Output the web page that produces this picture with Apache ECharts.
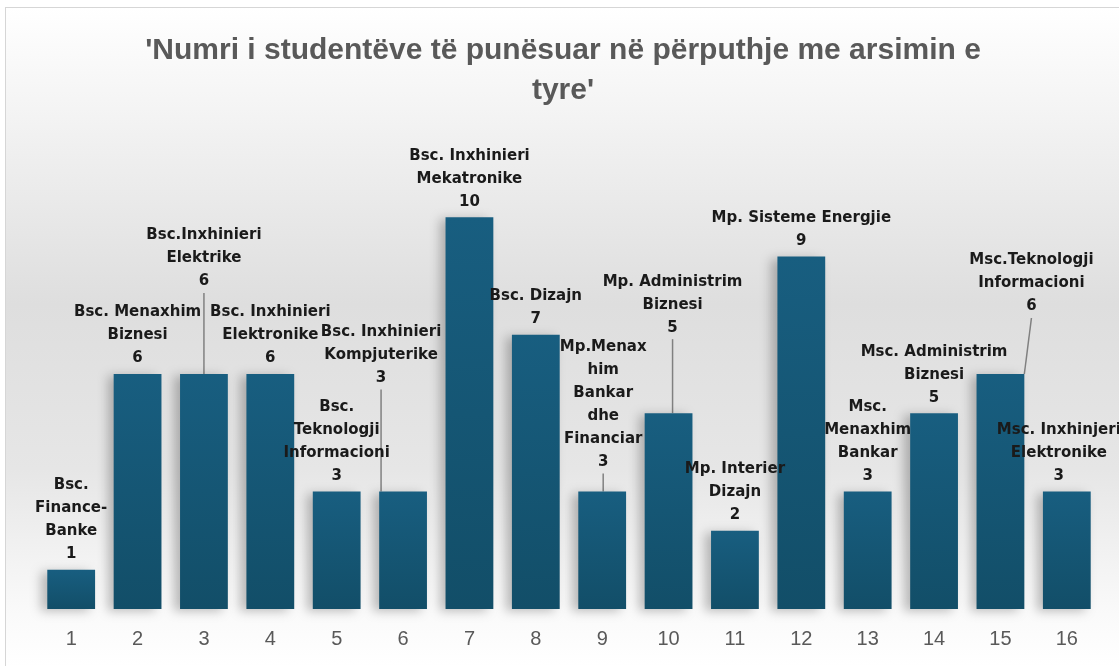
<!DOCTYPE html>
<html>
<head>
<meta charset="utf-8">
<script src="https://cdn.jsdelivr.net/npm/echarts@6/dist/echarts.min.js"></script>
<style>
  html, body { margin: 0; padding: 0; background: #fff; }
  #wrap {
    position: absolute; left: 5px; top: 7px; width: 1114px; height: 659px;
    border-left: 1px solid #d6d6d6; border-top: 1px solid #d6d6d6;
    background: linear-gradient(to bottom, #ffffff 0%, #f2f2f2 18%, #dedede 45%, #e6e6e6 70%, #fafafa 92%, #ffffff 100%);
  }
  #chart { width: 1114px; height: 659px; }
</style>
</head>
<body>
<div id="wrap"><div id="chart"></div></div>
<script>
var categories = ['1', '2', '3', '4', '5', '6', '7', '8', '9', '10', '11', '12', '13', '14', '15', '16'];
var values = [1, 6, 6, 6, 3, 3, 10, 7, 3, 5, 2, 9, 3, 5, 6, 3];
var programs = [
    'Bsc.\nFinance-\nBanke',
    'Bsc. Menaxhim\nBiznesi',
    'Bsc.Inxhinieri\nElektrike',
    'Bsc. Inxhinieri\nElektronike',
    'Bsc.\nTeknologji\nInformacioni',
    'Bsc. Inxhinieri\nKompjuterike',
    'Bsc. Inxhinieri\nMekatronike',
    'Bsc. Dizajn',
    'Mp.Menax\nhim\nBankar\ndhe\nFinanciar',
    'Mp. Administrim\nBiznesi',
    'Mp. Interier\nDizajn',
    'Mp. Sisteme Energjie',
    'Msc.\nMenaxhim\nBankar',
    'Msc. Administrim\nBiznesi',
    'Msc.Teknologji\nInformacioni',
    'Msc. Inxhinjeri\nElektronike'
];

// etiketat e zhvendosura (me vije udhezuese)
var labelMoves = {
    2: { dx: 0, dy: -77 },
    5: { dx: -22, dy: -98 },
    8: { dx: 1, dy: -14 },
    9: { dx: 4, dy: -70 },
    14: { dx: 31, dy: -52 },
    15: { dx: -8, dy: 0, noLine: true }
};

var barData = values.map(function (v, i) {
    var m = labelMoves[i];
    return { value: v, labelLine: { show: !!(m && !m.noLine) } };
});

var chart = echarts.init(document.getElementById('chart'));
var option = {
    backgroundColor: 'transparent',
    title: {
        text: "'Numri i studentëve të punësuar në përputhje me arsimin e\ntyre'",
        left: 'center',
        top: 18,
        textStyle: {
            fontFamily: 'Liberation Sans',
            fontSize: 30,
            fontWeight: 'bold',
            color: '#595959',
            lineHeight: 40
        }
    },
    grid: {
        left: 32,
        right: 20,
        top: 131,
        bottom: 58
    },
    xAxis: {
        type: 'category',
        data: categories,
        axisLine: { show: false },
        axisTick: { show: false },
        axisLabel: {
            fontFamily: 'Liberation Sans',
            fontSize: 20,
            color: '#595959',
            margin: 20
        }
    },
    yAxis: {
        type: 'value',
        min: 0,
        max: 12,
        show: false,
        splitLine: { show: false }
    },
    series: [{
        type: 'bar',
        data: barData,
        barWidth: '72%',
        itemStyle: {
            color: new echarts.graphic.LinearGradient(0, 0, 0, 1, [
                { offset: 0, color: '#185e80' },
                { offset: 1, color: '#124e68' }
            ]),
            shadowColor: 'rgba(0,0,0,0.25)',
            shadowBlur: 10,
            shadowOffsetX: -6,
            shadowOffsetY: 2
        },
        label: {
            show: true,
            position: 'top',
            distance: 4,
            fontFamily: 'DejaVu Sans',
            fontWeight: 'bold',
            fontSize: 15,
            lineHeight: 23,
            color: '#1a1a1a',
            formatter: function (p) {
                return programs[p.dataIndex] + '\n' + p.value;
            }
        },
        labelLine: {
            show: false,
            lineStyle: { color: '#808080', width: 1.5 }
        },
        labelLayout: function (params) {
            var m = labelMoves[params.dataIndex];
            return m ? { dx: m.dx, dy: m.dy } : {};
        }
    }]
};
chart.setOption(option);
</script>
</body>
</html>
